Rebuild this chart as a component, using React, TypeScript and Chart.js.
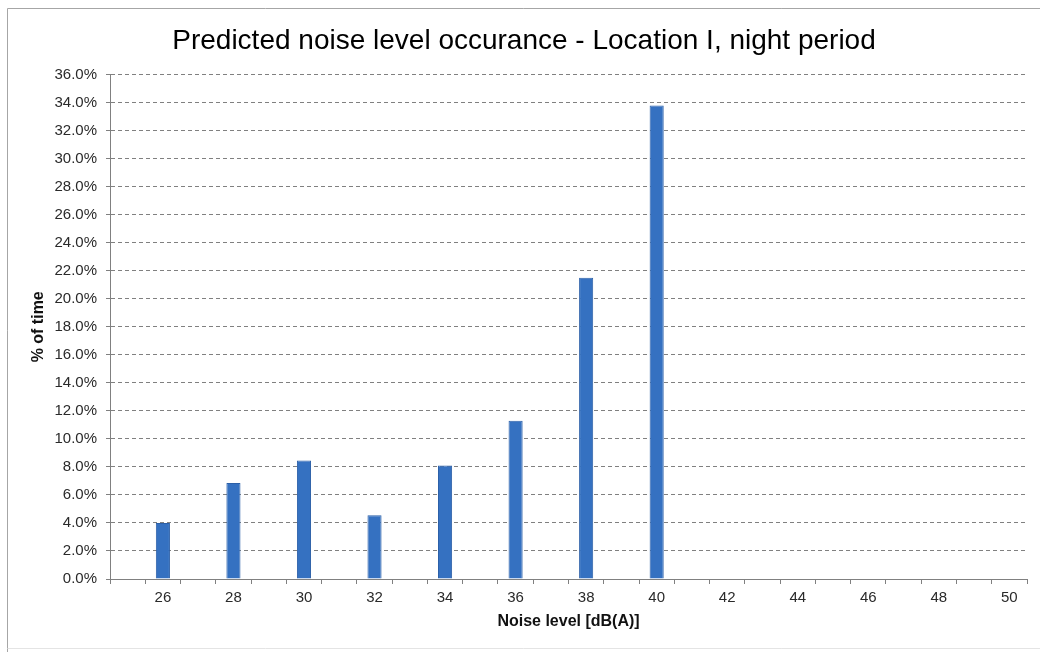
import { useEffect, useRef } from "react";
import { Chart, registerables } from "chart.js";

Chart.register(...registerables);

const titleText = "Predicted noise level occurance - Location I, night period";
const xTitle = "Noise level [dB(A)]";
const yTitle = "% of time";

const categories = [
  "25", "26", "27", "28", "29", "30", "31", "32", "33", "34", "35", "36", "37",
  "38", "39", "40", "41", "42", "43", "44", "45", "46", "47", "48", "49", "50",
];

const occurrence = [
  null, 4.0, null, 6.85, null, 8.45, null, 4.55, null, 8.1, null, 11.3, null,
  21.5, null, 33.8, null, null, null, null, null, null, null, null, null, null,
];

const yMin = 0;
const yMax = 36;
const yStep = 2;

const framePlugin = {
  id: "frame",
  beforeDraw(chart: any) {
    const ctx = chart.ctx;
    ctx.save();
    ctx.fillStyle = "#ffffff";
    ctx.fillRect(0, 0, chart.width, chart.height);
    ctx.strokeStyle = "#a6a6a6";
    ctx.lineWidth = 1;
    ctx.beginPath();
    ctx.moveTo(7.5, chart.height);
    ctx.lineTo(7.5, 8.5);
    ctx.lineTo(chart.width, 8.5);
    ctx.stroke();
    ctx.strokeStyle = "#e4e4e4";
    ctx.beginPath();
    ctx.moveTo(7.5, 648.5);
    ctx.lineTo(chart.width, 648.5);
    ctx.stroke();
    ctx.restore();
  },
};

export default function App() {
  const ref = useRef<HTMLCanvasElement | null>(null);

  useEffect(() => {
    if (!ref.current) return;
    const chart = new Chart(ref.current, {
      type: "bar",
      data: {
        labels: categories,
        datasets: [
          {
            data: occurrence as any,
            backgroundColor: "#3571c1",
            borderColor: "#2c60a8",
            borderWidth: 1,
            barPercentage: 1,
            categoryPercentage: 0.4,
          },
        ],
      },
      options: {
        responsive: false,
        animation: false,
        layout: { padding: { left: 21, right: 13, top: 0, bottom: 0 } },
        plugins: {
          legend: { display: false },
          tooltip: { enabled: false },
          title: {
            display: true,
            text: titleText,
            color: "#000000",
            font: { family: "'Liberation Sans', Arial, sans-serif", size: 28, weight: "normal" },
            padding: { top: 24, bottom: 17 },
          },
        },
        scales: {
          x: {
            afterFit(scale: any) {
              scale.height = 73;
            },
            grid: {
              offset: true,
              drawOnChartArea: false,
              drawTicks: true,
              tickLength: 5,
              color: "#808080",
            },
            border: { display: true, color: "#808080", width: 1 },
            ticks: {
              autoSkip: false,
              maxRotation: 0,
              padding: 5,
              color: "#2a2a2a",
              font: { family: "'Liberation Sans', Arial, sans-serif", size: 15 },
              callback: (_v: any, i: number) => {
                const lbl = categories[i];
                return Number(lbl) % 2 === 0 ? lbl : "";
              },
            },
            title: {
              display: true,
              text: xTitle,
              color: "#111111",
              font: { family: "'Liberation Sans', Arial, sans-serif", size: 16, weight: "bold" },
              padding: { top: 0, bottom: 21 },
            },
          },
          y: {
            min: yMin,
            max: yMax,
            afterFit(scale: any) {
              scale.width = 89;
            },
            grid: {
              color: "#808080",
              lineWidth: 1,
              drawTicks: true,
              tickLength: 4,
              tickColor: "#808080",
            },
            border: { display: true, color: "#808080", width: 1, dash: [4, 3] },
            ticks: {
              stepSize: yStep,
              padding: 9,
              color: "#2a2a2a",
              font: { family: "'Liberation Sans', Arial, sans-serif", size: 15 },
              callback: (v: any) => Number(v).toFixed(1) + "%",
            },
            title: {
              display: true,
              text: yTitle,
              color: "#111111",
              font: { family: "'Liberation Sans', Arial, sans-serif", size: 16, weight: "bold" },
              padding: { top: 8, bottom: 0 },
            },
          },
        },
      },
      plugins: [framePlugin],
    });
    return () => chart.destroy();
  }, []);

  return (
    <div style={{ position: "absolute", left: 0, top: 0, width: 1040, height: 652, background: "#fff" }}>
      <canvas ref={ref} width={1040} height={652} style={{ display: "block" }} />
    </div>
  );
}
